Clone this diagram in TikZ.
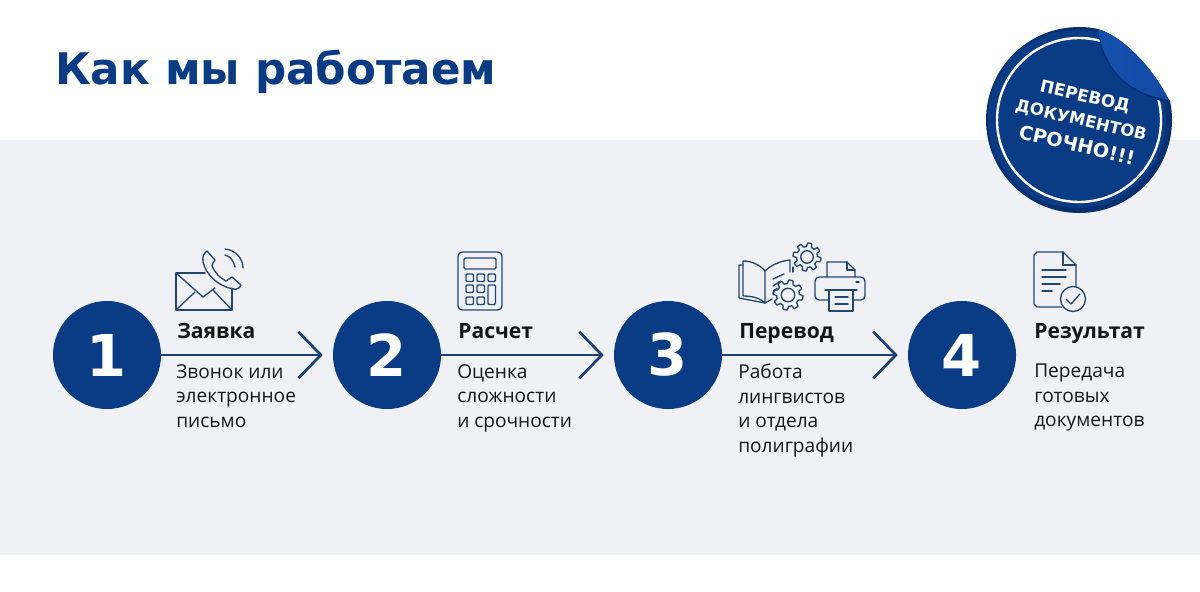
\documentclass[tikz,border=0pt]{standalone}
\usepackage{fontspec}
\setmainfont{Open Sans}
\newfontfamily\titlefont{DejaVu Sans}
\usetikzlibrary{arrows.meta}
\definecolor{bandgray}{HTML}{EFF1F5}
\definecolor{mainblue}{HTML}{0A3C86}
\definecolor{darkblue}{HTML}{08306F}
\definecolor{lightblue}{HTML}{1650AE}
\definecolor{iconblue}{HTML}{24476F}
\definecolor{arrowblue}{HTML}{1B4078}
\definecolor{textblack}{HTML}{151515}
\newcommand{\gearicon}[3]{%
  \draw[iconline] plot[smooth,samples=121,domain=0:360]
    ({#1+(#3-1.8+1.8*min(1,max(-1,3*sin(8*\x))))*cos(\x)},
     {#2+(#3-1.8+1.8*min(1,max(-1,3*sin(8*\x))))*sin(\x)}) -- cycle;
  \draw[iconline] (#1,#2) circle (#3*0.45);}
\begin{document}
\begin{tikzpicture}[x=0.025cm,y=-0.025cm,
    stepnum/.style = {shape = circle,
                      fill = mainblue,
                      text = white,
                      inner sep=0pt,
                      minimum size = 2.7cm,
                      font=\titlefont\fontsize{41}{41}\selectfont\bfseries},
    stephead/.style = {anchor=base west,
                       inner sep=0pt,
                       text = textblack,
                       font=\fontsize{15}{17}\selectfont\bfseries},
    stepdesc/.style = {anchor=north west,
                       inner sep=0pt,
                       align=left,
                       text = textblack,
                       font=\fontsize{13.6}{17.4}\selectfont},
    flow/.style = {draw=arrowblue,
                   line width=1.9pt,
                   shorten >=7.1pt,
                   -{Straight Barb[length=16pt,width=33pt,line width=1.9pt]}},
    iconline/.style = {draw=iconblue,
                       line width=0.95pt,
                       line join=round,
                       line cap=round},
    badgetext/.style = {text=white,
                        inner sep=0pt,
                        rotate=-13,
                        font=\titlefont\bfseries}]
	% page and band
	\fill[white] (0,0) rectangle (1200,591);
	\fill[bandgray] (0,140) rectangle (1200,555);
	\node[anchor=base west,inner sep=0pt,text=mainblue,
	      font=\titlefont\fontsize{31}{36}\selectfont\bfseries] (title) at (55,85) {Как мы работаем};

	% step circles
	\node[stepnum] (n1) at (107,355) {1};
	\node[stepnum] (n2) at (387,355) {2};
	\node[stepnum] (n3) at (668,355) {3};
	\node[stepnum] (n4) at (962,355) {4};
	\path[flow] (n1) -- (n2);
	\path[flow] (n2) -- (n3);
	\path[flow] (n3) -- (n4);

	% step texts
	\node[stephead] (h1) at (177,338) {Заявка};
	\node[stephead] (h2) at (458,338) {Расчет};
	\node[stephead] (h3) at (739,338) {Перевод};
	\node[stephead] (h4) at (1034,338) {Результат};
	\node[stepdesc] (d1) at (176,364) {Звонок или\\электронное\\письмо};
	\node[stepdesc] (d2) at (457,364) {Оценка\\сложности\\и срочности};
	\node[stepdesc] (d3) at (738,364) {Работа\\лингвистов\\и отдела\\полиграфии};
	\node[stepdesc] (d4) at (1034,364) {Передача\\готовых\\документов};

	% envelope and phone
	\draw[iconline] (205,273) -- (176,273) -- (176,310) -- (232,310) -- (232,288);
	\draw[iconline] (176,273) -- (203,297) -- (215,288);
	\draw[iconline] (176,310) -- (195,292);
	\draw[iconline] (232,310) -- (213,290);
	\draw[iconline] (207,251) -- (215,260) .. controls (213,263) and (212,264) .. (212,266)
	  .. controls (215,273) and (220,278) .. (226,281) -- (232,277) -- (241,285)
	  .. controls (240,288) and (237,290) .. (233,289)
	  .. controls (218,286) and (206,275) .. (203,262)
	  .. controls (202,257) and (204,253) .. (207,251) -- cycle;
	\draw[iconline] (225,255) .. controls (230,256) and (234,261) .. (235,267);
	\draw[iconline] (225,249) .. controls (235,250) and (243,258) .. (243,268);

	% calculator
	\draw[iconline,rounded corners=3pt] (458,252) rectangle (502,310);
	\draw[iconline,rounded corners=1pt] (464,258) rectangle (496,269);
	\foreach \bx/\by in {466/274,477/274,488/274,466/285,477/285,466/297,477/297}
		\draw[iconline,rounded corners=0.8pt] (\bx,\by) rectangle ++(7.5,7.5);
	\draw[iconline,rounded corners=0.8pt] (488,285) rectangle (495.5,304.5);

	% book, gears and printer
	\draw[iconline] (743,261) .. controls (752,261) and (760,265) .. (765,271) -- (765,303)
	  .. controls (760,298) and (752,296) .. (743,296) -- cycle;
	\draw[iconline] (743,265) -- (739,265) -- (739,298) -- (765,303);
	\draw[iconline] (765,271) .. controls (771,265) and (780,261) .. (790,260) -- (790,272);
	\draw[iconline] (793,267) -- (793,272);
	\draw[iconline] (765,303) -- (772,299);
	\foreach \ly in {0,7,14}
		\draw[iconline] (773,{279+\ly}) -- ({784-\ly*0.5},{274+\ly});
	\gearicon{788}{295}{15}
	\gearicon{807}{257}{14}
	\draw[iconline] (827,277) -- (827,262) -- (847,262) -- (855,270) -- (855,277);
	\draw[iconline] (847,262) -- (847,270) -- (855,270);
	\draw[iconline,rounded corners=3pt] (829,300) -- (815,300) -- (815,277) -- (865,277) -- (865,300) -- (853,300);
	\draw[iconline,fill=bandgray] (829,290) rectangle (853,311);
	\draw[iconline] (825,290) -- (857,290);
	\draw[iconline] (835,297) -- (848,297);
	\draw[iconline] (835,304) -- (848,304);
	\draw[iconline] (856,282) -- (859,282);

	% document with check mark
	\draw[iconline] (1063,252) -- (1037,252) -- (1034,255) -- (1034,304) -- (1037,307) -- (1062,307);
	\draw[iconline] (1063,252) -- (1076,265) -- (1076,287);
	\draw[iconline] (1063,252) -- (1063,265) -- (1076,265);
	\foreach \ly/\lx in {270/1066,277/1066,284/1060,291/1052}
		\draw[iconline] (1042,\ly) -- (\lx,\ly);
	\draw[iconline,fill=bandgray] (1073,299) circle (12.5);
	\draw[iconline] (1066,299) -- (1071,304) -- (1080,294);

	% badge
	\fill[darkblue] (1079,120) circle (93);
	\fill[mainblue] (1077,119) circle (89);
	\draw[white,line width=1.7pt] (1079,120) circle (82);
	\fill[white] (1098,29) .. controls (1122,36) and (1152,66) .. (1169,100)
	  -- (1185,100) -- (1185,20) -- (1098,20) -- cycle;
	\draw[darkblue,line width=2.5pt] (1101,38) .. controls (1106,70) and (1130,92) .. (1168,101);
	\shade[left color=lightblue,right color=lightblue!75!mainblue]
	  (1098,29) .. controls (1122,36) and (1152,66) .. (1169,100)
	  .. controls (1136,94) and (1106,78) .. (1098,29) -- cycle;
	\node[badgetext,font=\titlefont\fontsize{12}{14}\selectfont\bfseries] (b1) at (1085,97) {ПЕРЕВОД};
	\node[badgetext,font=\titlefont\fontsize{11.7}{14}\selectfont\bfseries] (b2) at (1081,121) {ДОКУМЕНТОВ};
	\node[badgetext,font=\titlefont\fontsize{13.6}{14}\selectfont\bfseries] (b3) at (1077,145) {СРОЧНО!!!};
\end{tikzpicture}
\end{document}
